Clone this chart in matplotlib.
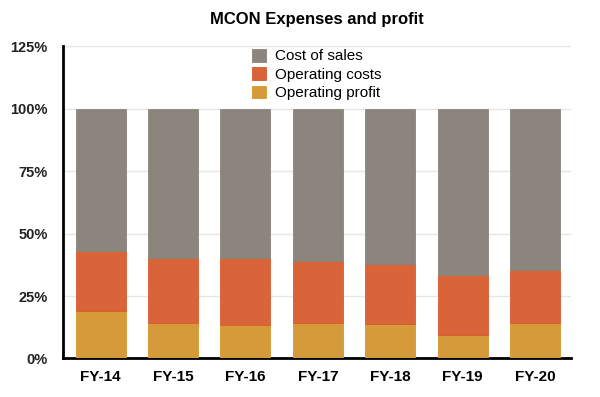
import matplotlib.pyplot as plt
import numpy as np

plt.rcParams['font.family'] = ['Liberation Sans', 'DejaVu Sans']

# Datos (porcentaje de ingresos)
years = ["FY-14", "FY-15", "FY-16", "FY-17", "FY-18", "FY-19", "FY-20"]
operating_profit = [19.2, 14.0, 13.2, 14.3, 13.6, 9.4, 14.0]
operating_costs = [23.9, 26.2, 27.0, 24.7, 24.2, 24.1, 21.3]
cost_of_sales = [100 - p - c for p, c in zip(operating_profit, operating_costs)]

c_sales = "#8c857d"
c_opcost = "#d9643a"
c_profit = "#d59a3a"

fig = plt.figure(figsize=(6, 3.97), dpi=100)
ax = fig.add_axes([0.105, 0.097, 0.847, 0.787])

x = np.arange(len(years))
w = 0.69
b1 = ax.bar(x, operating_profit, w, color=c_profit, edgecolor="#d8962a", linewidth=0.6,
            label="Operating profit", zorder=3)
b2 = ax.bar(x, operating_costs, w, bottom=operating_profit, color=c_opcost,
            edgecolor="#d85a2a", linewidth=0.6, label="Operating costs", zorder=3)
bottom2 = [p + c for p, c in zip(operating_profit, operating_costs)]
b3 = ax.bar(x, cost_of_sales, w, bottom=bottom2, color=c_sales, edgecolor="#8a847c",
            linewidth=0.6, label="Cost of sales", zorder=3)

ax.set_xlim(-0.52, 6.5)
ax.set_ylim(0, 125)
ax.set_yticks([0, 25, 50, 75, 100, 125])
ax.set_yticklabels(["0%", "25%", "50%", "75%", "100%", "125%"], fontsize=10.5,
                   fontweight="bold", color="#222222")
ax.set_xticks(x)
ax.set_xticklabels(years, fontsize=11, fontweight="bold")
ax.tick_params(length=0, pad=8)
ax.tick_params(axis="y", pad=11)

ax.grid(axis="y", color="#e6e6e6", linewidth=1, zorder=0)
ax.spines["top"].set_visible(False)
ax.spines["right"].set_visible(False)
ax.spines["left"].set_linewidth(2)
ax.spines["bottom"].set_linewidth(2)

ax.set_title("MCON Expenses and profit", fontsize=12, fontweight="bold", pad=16)

ax.legend([b3, b2, b1], ["Cost of sales", "Operating costs", "Operating profit"],
          loc="upper center", bbox_to_anchor=(0.5, 1.035), frameon=False, fontsize=11,
          handlelength=0.9, handleheight=0.9, handletextpad=0.6, labelspacing=0.25)

fig.savefig("out.png", dpi=100)
